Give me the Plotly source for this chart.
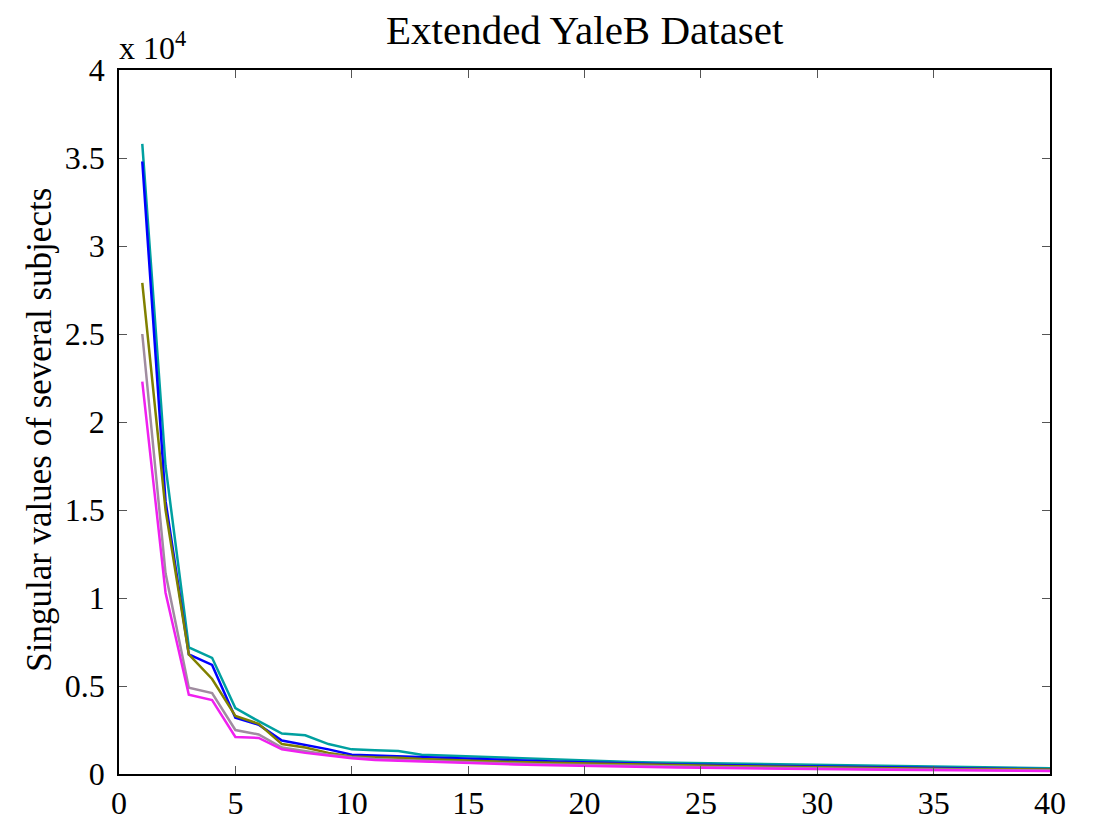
import plotly.graph_objects as go

x_index = list(range(1, 41))

teal = [3.58, 1.75, 0.72, 0.66, 0.375, 0.30, 0.23, 0.22, 0.17, 0.14,
        0.135, 0.13, 0.11, 0.105, 0.10, 0.095, 0.09, 0.087, 0.083, 0.078,
        0.073, 0.068, 0.066, 0.064, 0.062, 0.06, 0.058, 0.056, 0.054, 0.052,
        0.05, 0.048, 0.046, 0.044, 0.042, 0.040, 0.038, 0.036, 0.035, 0.033]
blue = [3.48, 1.55, 0.68, 0.62, 0.32, 0.28, 0.19, 0.165, 0.14, 0.11,
        0.105, 0.10, 0.095, 0.09, 0.085, 0.08, 0.077, 0.074, 0.07, 0.066,
        0.062, 0.058, 0.056, 0.054, 0.052, 0.05, 0.048, 0.046, 0.044, 0.042,
        0.04, 0.038, 0.036, 0.034, 0.033, 0.032, 0.03, 0.029, 0.028, 0.027]
olive = [2.79, 1.50, 0.68, 0.54, 0.33, 0.285, 0.17, 0.15, 0.12, 0.10,
         0.095, 0.093, 0.085, 0.08, 0.076, 0.072, 0.068, 0.065, 0.062, 0.06,
         0.057, 0.054, 0.052, 0.05, 0.048, 0.046, 0.044, 0.042, 0.04, 0.038,
         0.036, 0.034, 0.033, 0.032, 0.03, 0.029, 0.028, 0.027, 0.026, 0.025]
gray = [2.50, 1.14, 0.49, 0.46, 0.25, 0.225, 0.15, 0.13, 0.11, 0.095,
        0.085, 0.08, 0.075, 0.07, 0.066, 0.062, 0.059, 0.056, 0.053, 0.05,
        0.048, 0.046, 0.044, 0.042, 0.04, 0.038, 0.036, 0.034, 0.032, 0.031,
        0.03, 0.028, 0.027, 0.026, 0.025, 0.024, 0.023, 0.022, 0.021, 0.02]
magenta = [2.23, 1.03, 0.45, 0.42, 0.21, 0.205, 0.14, 0.12, 0.105, 0.09,
           0.08, 0.075, 0.07, 0.065, 0.06, 0.057, 0.054, 0.051, 0.048, 0.045,
           0.043, 0.041, 0.039, 0.037, 0.035, 0.033, 0.031, 0.03, 0.029, 0.028,
           0.026, 0.025, 0.024, 0.023, 0.022, 0.021, 0.02, 0.019, 0.018, 0.017]

series = [
    ("subject A", teal, "#00a0a0"),
    ("subject B", blue, "#0000ff"),
    ("subject C", olive, "#808000"),
    ("subject D", gray, "#a08ca0"),
    ("subject E", magenta, "#f020f0"),
]

x_ticks = [0, 5, 10, 15, 20, 25, 30, 35, 40]
y_ticks = [0, 0.5, 1, 1.5, 2, 2.5, 3, 3.5, 4]
y_tick_text = ["0", "0.5", "1", "1.5", "2", "2.5", "3", "3.5", "4"]

font_family = "Liberation Serif, Times New Roman, serif"

fig = go.Figure()
for name, vals, col in series:
    fig.add_trace(go.Scatter(x=x_index, y=vals, mode="lines", name=name,
                             line=dict(color=col, width=2.5)))

axis_common = dict(showgrid=False, zeroline=False, showline=True,
                   linecolor="black", linewidth=1.5, mirror="ticks",
                   ticks="inside", ticklen=8, tickwidth=1, tickcolor="#555555",
                   tickfont=dict(family=font_family, size=32, color="black"))

fig.update_xaxes(range=[0, 40], tickvals=x_ticks, **axis_common)
fig.update_yaxes(range=[0, 4], tickvals=y_ticks, ticktext=y_tick_text,
                 ticklabelstandoff=6, **axis_common)

fig.update_layout(
    width=1096, height=833,
    margin=dict(l=119, r=46, t=70, b=39),
    paper_bgcolor="white", plot_bgcolor="white",
    showlegend=False,
    title=dict(text="Extended YaleB Dataset", x=0.5335, xanchor="center",
               y=1 - 30 / 833, yanchor="middle",
               font=dict(family=font_family, size=41, color="black")),
    annotations=[
        dict(text="x 10<sup>4</sup>", xref="paper", yref="paper",
             x=0, y=1, xanchor="left", yanchor="bottom", showarrow=False,
             yshift=2, xshift=-2,
             font=dict(family=font_family, size=32, color="black")),
        dict(text="Singular values of several subjects", xref="paper", yref="paper",
             x=(40 - 119) / 931, y=(794 - 440) / 724, xanchor="center", yanchor="middle",
             textangle=-90, showarrow=False,
             font=dict(family=font_family, size=35, color="black")),
    ],
)

fig.write_html("out.html")
